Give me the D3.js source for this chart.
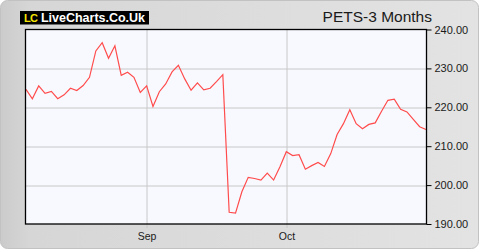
<!DOCTYPE html>
<html>
<head>
<meta charset="utf-8">
<script src="https://cdn.jsdelivr.net/npm/d3@7"></script>
<style>
  body { margin: 0; background: #fff; }
  svg { display: block; font-family: "Liberation Sans", Arial, sans-serif; }
</style>
</head>
<body>
<script>
// trading days, Aug-Oct 2025
var dates = [
  "2025-08-04","2025-08-05","2025-08-06","2025-08-07","2025-08-08",
  "2025-08-11","2025-08-12","2025-08-13","2025-08-14","2025-08-15",
  "2025-08-18","2025-08-19","2025-08-20","2025-08-21","2025-08-22",
  "2025-08-26","2025-08-27","2025-08-28","2025-08-29",
  "2025-09-01","2025-09-02","2025-09-03","2025-09-04","2025-09-05",
  "2025-09-08","2025-09-09","2025-09-10","2025-09-11","2025-09-12",
  "2025-09-15","2025-09-16","2025-09-17","2025-09-18","2025-09-19",
  "2025-09-22","2025-09-23","2025-09-24","2025-09-25","2025-09-26",
  "2025-09-29","2025-09-30",
  "2025-10-01","2025-10-02","2025-10-03",
  "2025-10-06","2025-10-07","2025-10-08","2025-10-09","2025-10-10",
  "2025-10-13","2025-10-14","2025-10-15","2025-10-16","2025-10-17",
  "2025-10-20","2025-10-21","2025-10-22","2025-10-23","2025-10-24",
  "2025-10-27","2025-10-28","2025-10-29","2025-10-30","2025-10-31"
];

var prices = [
  224.6, 222.2, 225.5, 223.6, 224.1, 222.2, 223.2, 224.9, 224.3, 225.6,
  227.7, 234.5, 236.6, 232.6, 235.8, 228.2, 229.0, 227.7, 223.8, 225.5,
  220.2, 224.0, 226.0, 229.1, 230.8, 227.3, 224.4, 226.3, 224.5, 224.9,
  226.6, 228.4, 193.0, 192.8, 198.3, 202.0, 201.7, 201.3, 203.1, 201.3,
  204.7, 208.6, 207.6, 207.8, 204.1, 205.0, 205.8, 204.8, 208.1, 213.0,
  215.8, 219.4, 215.8, 214.5, 215.6, 216.0, 219.0, 221.8, 222.1, 219.5,
  218.8, 216.9, 215.0, 214.3
];

var yTicks = [190, 200, 210, 220, 230, 240];
var monthLabels = ["Sep", "Oct"];
var title = "PETS-3 Months";

var W = 480, H = 250;
var margin = {top: 29.5, right: 53.5, bottom: 26, left: 25.5},
    width = W - margin.left - margin.right,
    height = H - margin.top - margin.bottom;

var parseDate = d3.timeParse("%Y-%m-%d");
var data = dates.map(function(d, i) { return {date: parseDate(d), price: prices[i], i: i}; });

var svg = d3.select("body").append("svg")
    .attr("width", W)
    .attr("height", H);

var defs = svg.append("defs");
var grad = defs.append("linearGradient").attr("id", "bg")
    .attr("x1", 0).attr("y1", 0).attr("x2", 1).attr("y2", 0);
grad.append("stop").attr("offset", "0%").attr("stop-color", "#cbcbcb");
grad.append("stop").attr("offset", "6%").attr("stop-color", "#d6d6d6");
grad.append("stop").attr("offset", "100%").attr("stop-color", "#e3e3e3");

// outer panel
svg.append("rect")
    .attr("x", 0.5).attr("y", 0.5)
    .attr("width", W - 2).attr("height", H - 2)
    .attr("rx", 7)
    .attr("fill", "url(#bg)")
    .attr("stroke", "#c2c2c2");

// logo
var logo = svg.append("g");
logo.append("rect")
    .attr("x", 20).attr("y", 11)
    .attr("width", 129).attr("height", 13.5)
    .attr("fill", "#000");
logo.append("text")
    .attr("x", 24).attr("y", 22)
    .attr("fill", "#f4e400")
    .attr("font-weight", "bold")
    .attr("font-size", 11)
    .attr("textLength", 14)
    .text("LC");
logo.append("text")
    .attr("x", 41).attr("y", 22)
    .attr("fill", "#fff")
    .attr("font-weight", "bold")
    .attr("font-size", 12.5)
    .attr("textLength", 104)
    .text("LiveCharts.Co.Uk");

// title
svg.append("text")
    .attr("x", 432).attr("y", 21.5)
    .attr("text-anchor", "end")
    .attr("font-size", 15.5)
    .attr("fill", "#1a1a1a")
    .text(title);

var g = svg.append("g")
    .attr("transform", "translate(" + margin.left + "," + margin.top + ")");

var x = d3.scaleLinear().domain([0, data.length - 1]).range([0.5, width - 0.5]);
var y = d3.scaleLinear().domain([190, 240]).range([height, 0]);

g.append("rect")
    .attr("width", width).attr("height", height)
    .attr("fill", "#f8f9ff");

// first trading day of each month
var monthStarts = data.filter(function(d, i) {
  return i > 0 && d.date.getMonth() !== data[i - 1].date.getMonth();
});

// gridlines
g.append("g").selectAll("line")
    .data(yTicks.slice(1, -1))
  .join("line")
    .attr("x1", 0).attr("x2", width)
    .attr("y1", function(d) { return Math.round(y(d)) + 0.5; })
    .attr("y2", function(d) { return Math.round(y(d)) + 0.5; })
    .attr("stroke", "#c8c8c8");

g.append("g").selectAll("line")
    .data(monthStarts)
  .join("line")
    .attr("x1", function(d) { return Math.round(x(d.i)) + 0.5; })
    .attr("x2", function(d) { return Math.round(x(d.i)) + 0.5; })
    .attr("y1", 0).attr("y2", height + 4)
    .attr("stroke", "#c8c8c8");

// the line
var valueline = d3.line()
    .x(function(d) { return x(d.i); })
    .y(function(d) { return y(d.price); });

g.append("path")
    .datum(data)
    .attr("fill", "none")
    .attr("stroke", "#ff4c4c")
    .attr("stroke-width", 1.2)
    .attr("d", valueline);

// frame
g.append("rect")
    .attr("width", width).attr("height", height)
    .attr("fill", "none")
    .attr("stroke", "#000")
    .attr("stroke-width", 1.3);

// y axis on the right
var yAxis = g.append("g")
    .attr("transform", "translate(" + width + ",0)")
    .call(d3.axisRight(y).tickValues(yTicks).tickFormat(d3.format(".2f")).tickSize(5).tickPadding(3));
yAxis.select(".domain").remove();
yAxis.selectAll("line").attr("stroke", "#000");
yAxis.selectAll("text")
    .attr("font-family", "\"Liberation Sans\", Arial, sans-serif")
    .attr("font-size", 11)
    .attr("fill", "#1a1a1a");

// month labels
g.append("g").selectAll("text")
    .data(monthStarts)
  .join("text")
    .attr("x", function(d) { return Math.round(x(d.i)) + 0.5; })
    .attr("y", height + 15.5)
    .attr("text-anchor", "middle")
    .attr("font-size", 10.5)
    .attr("fill", "#1a1a1a")
    .text(function(d, i) { return monthLabels[i]; });
</script>
</body>
</html>
